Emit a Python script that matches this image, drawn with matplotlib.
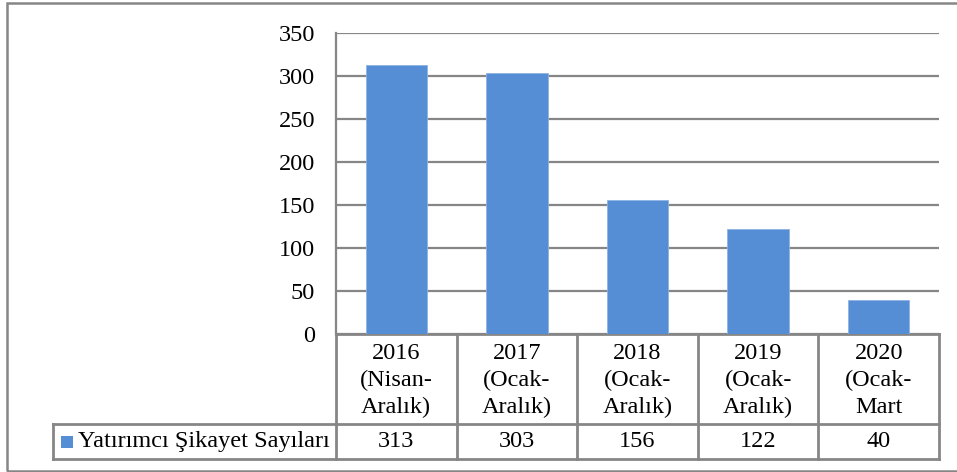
import matplotlib.pyplot as plt
from matplotlib.patches import Rectangle
from matplotlib.lines import Line2D
import matplotlib.transforms as mtransforms

# --- Дані ---
categories = ["2016\n(Nisan-\nAralık)", "2017\n(Ocak-\nAralık)", "2018\n(Ocak-\nAralık)",
              "2019\n(Ocak-\nAralık)", "2020\n(Ocak-\nMart"]
values = [313, 303, 156, 122, 40]
series_name = "Yatırımcı Şikayet Sayıları"
yticks = [0, 50, 100, 150, 200, 250, 300, 350]

plt.rcParams['font.family'] = ['Liberation Serif', 'DejaVu Serif']
grid_c = '#868686'
bar_c = '#558ed5'
fs = 17.5

fig = plt.figure(figsize=(9.57, 4.72), dpi=100)
ax = fig.add_axes([336 / 957, 138 / 472, 603 / 957, 301 / 472])

x = list(range(len(values)))
ax.bar(x, values, width=0.51, color=bar_c, edgecolor='#8db3e2', linewidth=0.6, zorder=3)
ax.set_xlim(-0.5, len(values) - 0.5)
ax.set_ylim(0, 350)
ax.set_yticks(yticks)
ax.set_yticklabels([str(t) for t in yticks], fontsize=fs)
ax.tick_params(axis='y', length=0, pad=15)
ax.set_xticks([])
ax.grid(axis='y', color=grid_c, linewidth=1.6, zorder=0)
for s in ['top', 'right', 'bottom']:
    ax.spines[s].set_visible(False)
ax.spines['left'].set_color(grid_c)
ax.spines['left'].set_linewidth(1.6)

# --- Таблиця даних ---
tr = mtransforms.blended_transform_factory(ax.transData, ax.transAxes)
row1 = -90 / 301
row2 = -125 / 301
leg_x = -0.5 - (336 - 53) / (603 / len(values))

def hline(x0, x1, y, lw=1.6):
    ax.add_line(Line2D([x0, x1], [y, y], transform=tr, color=grid_c, lw=lw, clip_on=False))

def vline(xx, y0, y1, lw=1.6):
    ax.add_line(Line2D([xx, xx], [y0, y1], transform=tr, color=grid_c, lw=lw, clip_on=False))

hline(-0.5, len(values) - 0.5, 0, lw=2)
hline(leg_x, len(values) - 0.5, row1, lw=2)
hline(leg_x, len(values) - 0.5, row2, lw=2)
vline(leg_x, row1, row2, lw=2)
for i in range(len(values) + 1):
    vline(i - 0.5, 0, row2, lw=2)

for i, (c, v) in enumerate(zip(categories, values)):
    ax.text(i, -9 / 301, c, transform=tr, ha='center', va='top', fontsize=fs, linespacing=1.37)
    ax.text(i, (row1 + row2) / 2, str(v), transform=tr, ha='center', va='center', fontsize=fs)

# легенда в таблиці
px = 603 / len(values)
ax.add_patch(Rectangle((leg_x + 8 / px, (row1 + row2) / 2 - 6 / 301), 12 / px, 12 / 301, transform=tr,
                       facecolor=bar_c, edgecolor='none', clip_on=False))
ax.text(leg_x + 25 / px, (row1 + row2) / 2, series_name, transform=tr, ha='left', va='center', fontsize=fs)

# --- Рамка ---
fig.patches.append(Rectangle((7 / 957, 1.5 / 472), 1.0, (472 - 4.5) / 472, transform=fig.transFigure,
                             facecolor='none', edgecolor=grid_c, linewidth=1.8))

fig.savefig('out.png', dpi=100)
